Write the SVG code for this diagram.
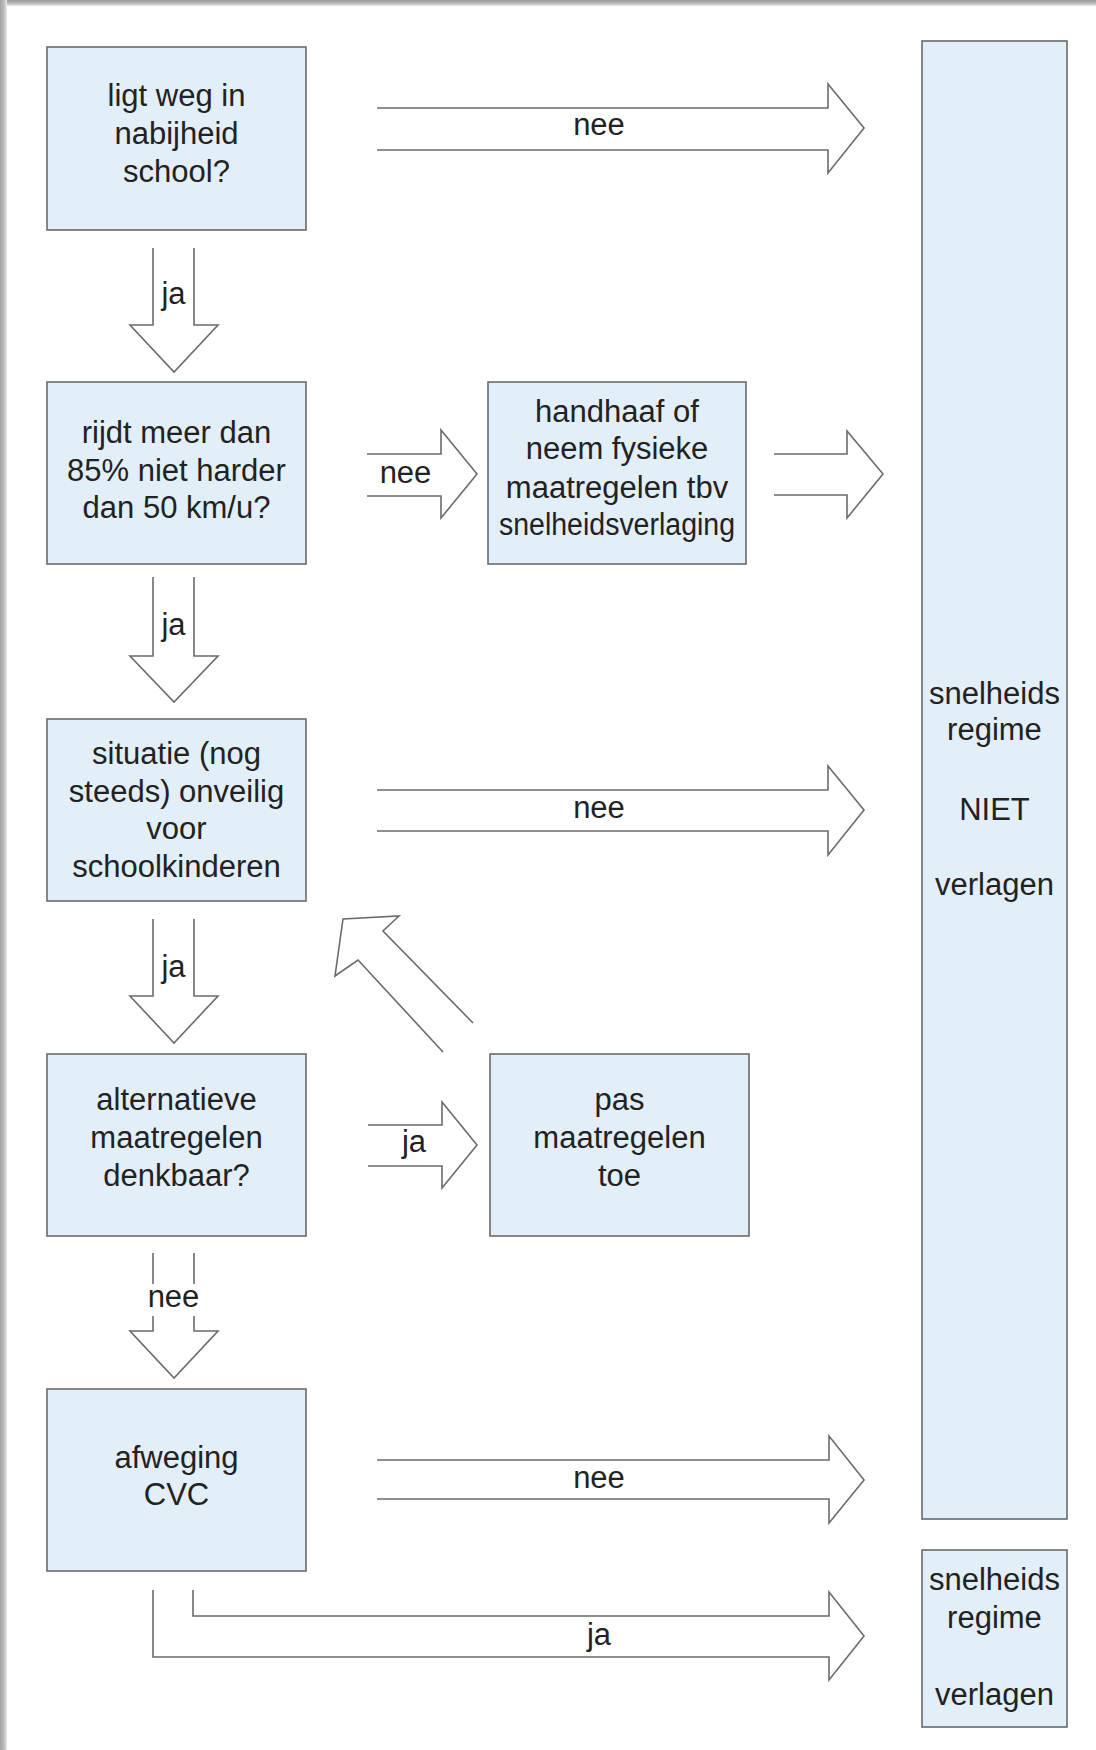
<svg xmlns="http://www.w3.org/2000/svg" width="1096" height="1750" viewBox="0 0 1096 1750">
<defs>
<linearGradient id="gTop" x1="0" y1="0" x2="0" y2="1"><stop offset="0" stop-color="#9a9a9a"/><stop offset="0.6" stop-color="#bdbdbd"/><stop offset="1" stop-color="#ececec"/></linearGradient>
<linearGradient id="gLeft" x1="0" y1="0" x2="1" y2="0"><stop offset="0" stop-color="#a4a4a4"/><stop offset="0.6" stop-color="#bdbdbd"/><stop offset="1" stop-color="#ececec"/></linearGradient>
<style>
.box{fill:#e2eef8;stroke:#6b6b6b;stroke-width:1.6}
.arr{fill:#ffffff;stroke:#6b6b6b;stroke-width:1.6;stroke-linejoin:miter}
text{font-family:"Liberation Sans",Arial,sans-serif;font-size:31px;fill:#222222;text-anchor:middle}
</style>
</defs>
<rect x="0" y="0" width="1096" height="1750" fill="#ffffff"/>
<rect x="0" y="0" width="1096" height="6" fill="url(#gTop)"/>
<rect x="0" y="0" width="7" height="1750" fill="url(#gLeft)"/>

<g id="connectors">
<path class="arr" d="M153,248 V325 H130 L174,372 L218,325 H194 V248"/>
<text x="173.5" y="304">ja</text>
<path class="arr" d="M153,577 V656 H130 L174,702 L218,656 H194 V577"/>
<text x="173.5" y="635">ja</text>
<path class="arr" d="M153,919 V996 H130 L174,1043 L218,996 H194 V919"/>
<text x="173.5" y="977">ja</text>
<path class="arr" d="M153,1253 V1331 H130 L174,1378 L218,1331 H194 V1253"/>
<rect x="148" y="1284" width="51" height="32" fill="#ffffff"/>
<text x="173.5" y="1307">nee</text>

<path class="arr" d="M377,108 H828 V84 L864,128 L828,173 V150 H377"/>
<text x="599" y="135">nee</text>
<path class="arr" d="M367,454 H441 V430 L477,474 L441,518 V496 H367"/>
<text x="405.5" y="483">nee</text>
<path class="arr" d="M774,454 H847 V431 L883,474 L847,518 V495 H774"/>
<path class="arr" d="M377,790 H828 V766 L864,810 L828,855 V831 H377"/>
<text x="599" y="818">nee</text>
<path class="arr" d="M368,1125 H442 V1102 L477,1145 L442,1188 V1166 H368"/>
<text x="414" y="1152">ja</text>
<path class="arr" d="M443,1052 L358,960 L335,976 L343,919 L399,916 L383,931 L473,1023"/>
<path class="arr" d="M377,1460 H829 V1436 L864,1480 L829,1523 V1499 H377"/>
<text x="599" y="1488">nee</text>
<path class="arr" d="M153,1590 V1657 H829 V1680 L864,1636 L829,1592 V1616 H193 V1590"/>
<text x="599" y="1645">ja</text>
</g>

<g id="n1">
<rect class="box" x="47" y="47" width="259" height="183"/>
<text x="176.5" y="106">ligt weg in</text>
<text x="176.5" y="144">nabijheid</text>
<text x="176.5" y="182">school?</text>
</g>
<g id="n2">
<rect class="box" x="47" y="382" width="259" height="182"/>
<text x="176.5" y="443">rijdt meer dan</text>
<text x="176.5" y="481">85% niet harder</text>
<text x="176.5" y="518">dan 50 km/u?</text>
</g>
<g id="n_handhaaf">
<rect class="box" x="488" y="382" width="258" height="182"/>
<text x="617" y="422">handhaaf of</text>
<text x="617" y="459">neem fysieke</text>
<text x="617" y="498">maatregelen tbv</text>
<text x="617" y="535" textLength="236" lengthAdjust="spacingAndGlyphs">snelheidsverlaging</text>
</g>
<g id="n3">
<rect class="box" x="47" y="719" width="259" height="182"/>
<text x="176.5" y="764">situatie (nog</text>
<text x="176.5" y="802">steeds) onveilig</text>
<text x="176.5" y="839">voor</text>
<text x="176.5" y="877">schoolkinderen</text>
</g>
<g id="n4">
<rect class="box" x="47" y="1054" width="259" height="182"/>
<text x="176.5" y="1110">alternatieve</text>
<text x="176.5" y="1148">maatregelen</text>
<text x="176.5" y="1186">denkbaar?</text>
</g>
<g id="n_pas">
<rect class="box" x="490" y="1054" width="259" height="182"/>
<text x="619.5" y="1110">pas</text>
<text x="619.5" y="1148">maatregelen</text>
<text x="619.5" y="1186">toe</text>
</g>
<g id="n5">
<rect class="box" x="47" y="1389" width="259" height="182"/>
<text x="176.5" y="1468">afweging</text>
<text x="176.5" y="1505">CVC</text>
</g>
<g id="n_niet">
<rect class="box" x="922" y="41" width="145" height="1478"/>
<text x="994.5" y="704">snelheids</text>
<text x="994.5" y="740">regime</text>
<text x="994.5" y="820">NIET</text>
<text x="994.5" y="895">verlagen</text>
</g>
<g id="n_verlagen">
<rect class="box" x="922" y="1550" width="145" height="177"/>
<text x="994.5" y="1590">snelheids</text>
<text x="994.5" y="1628">regime</text>
<text x="994.5" y="1705">verlagen</text>
</g>
</svg>
